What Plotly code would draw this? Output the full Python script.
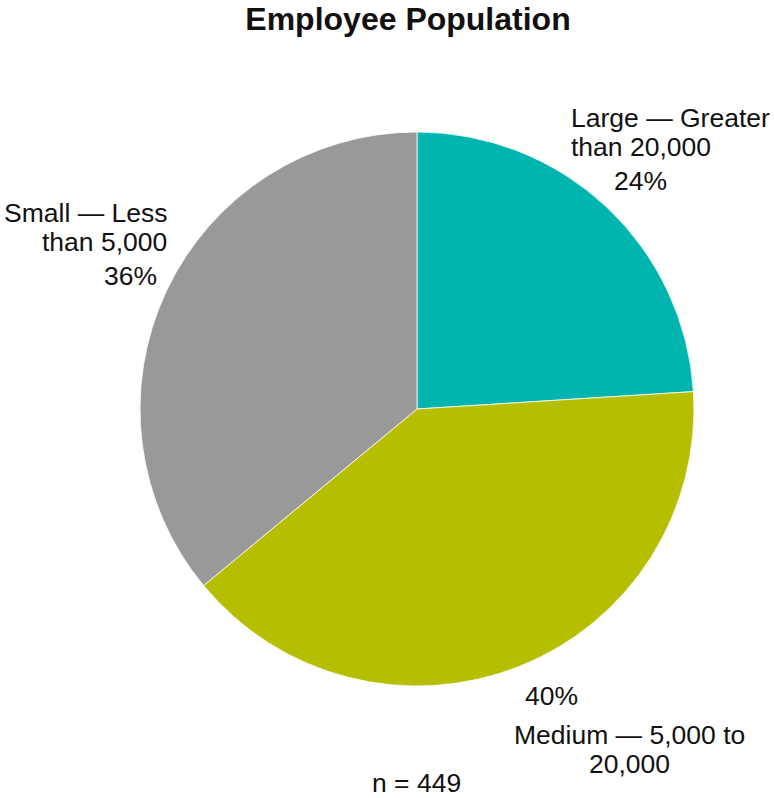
import plotly.graph_objects as go

# Employee population split by company size
category_lines = [
    ["Large — Greater", "than 20,000"],
    ["Medium — 5,000 to", "20,000"],
    ["Small — Less", "than 5,000"],
]
shares = [24, 40, 36]
colors = ["#00B5B0", "#B5BF00", "#999999"]
sample_size = 449

W, H = 774, 798
L, R, T, B = 140, 80, 132, 112
pw, ph = W - L - R, H - T - B

def px(x):
    return (x - L) / pw

def py(y):
    return (H - B - y) / ph

FONT = "Liberation Sans, Arial, sans-serif"
SIZE = 26.5

fig = go.Figure(go.Pie(
    labels=[" ".join(c) for c in category_lines],
    values=shares,
    sort=False,
    direction="clockwise",
    rotation=0,
    marker=dict(colors=colors, line=dict(color="white", width=0.8)),
    textinfo="none",
    hoverinfo="label+percent",
    showlegend=False,
))

pct = [f"{v / sum(shares) * 100:.0f}%" for v in shares]

# label lines: (text, x_px, y_px, xanchor)
label_specs = [
    (category_lines[0][0], 569, 118, "left"),
    (category_lines[0][1], 569, 147, "left"),
    (pct[0], 640, 181, "center"),
    (pct[1], 551, 696, "center"),
    (category_lines[1][0], 629, 735, "center"),
    (category_lines[1][1], 629, 764, "center"),
    (category_lines[2][0], 169, 213, "right"),
    (category_lines[2][1], 169, 242, "right"),
    (pct[2], 130, 276, "center"),
    (f"n = {sample_size}", 416, 783, "center"),
]

annotations = [
    dict(text=t, x=px(x), y=py(y), xref="paper", yref="paper",
         xanchor=xa, yanchor="middle", showarrow=False,
         font=dict(family=FONT, size=SIZE, color="#111111"))
    for t, x, y, xa in label_specs
]

fig.update_layout(
    width=W, height=H,
    margin=dict(l=L, r=R, t=T, b=B),
    paper_bgcolor="white",
    plot_bgcolor="white",
    title=dict(text="<b>Employee Population</b>", x=408 / W, xanchor="center",
               y=1 - 19 / H, yanchor="middle",
               font=dict(family=FONT, size=32, color="#111111")),
    annotations=annotations,
)

fig.write_html("out.html")
